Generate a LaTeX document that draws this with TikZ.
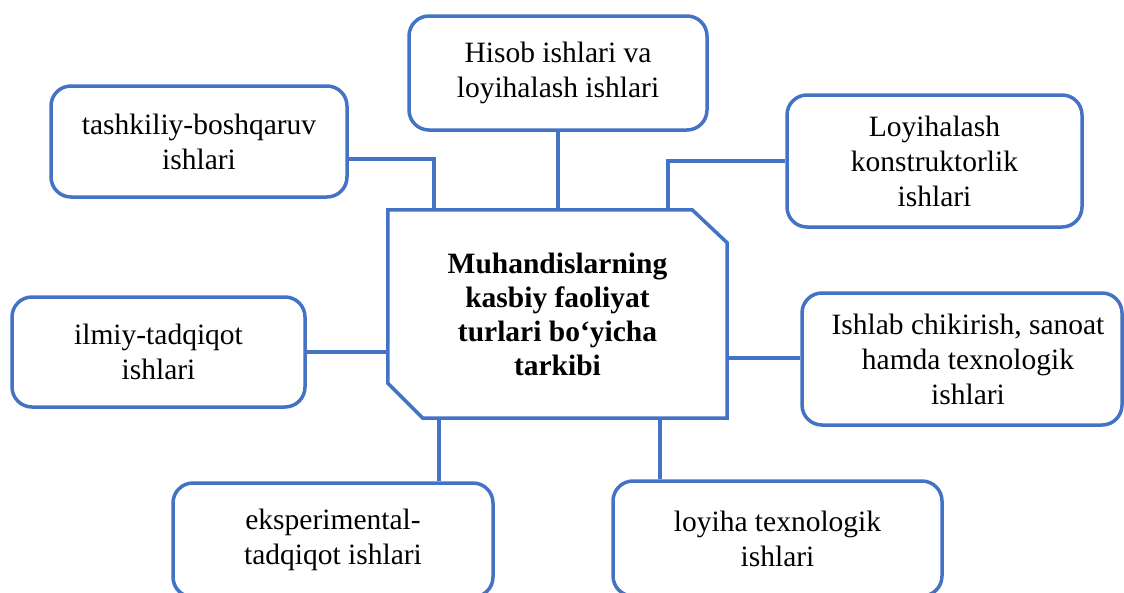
\documentclass[tikz,border=0pt]{standalone}
\usepackage{fontspec}
\setmainfont{Liberation Serif}
\definecolor{boxblue}{HTML}{4472C4}
\begin{document}
\begin{tikzpicture}[x=1pt,y=-1pt,
  box/.style={draw=boxblue, line width=3.5pt, rounded corners=20pt, fill=white,
    inner sep=0pt, align=center, font=\fontsize{29.5}{35}\selectfont},
  conn/.style={draw=boxblue, line width=3.5pt},
  midtext/.style={inner sep=0pt, align=center, font=\fontsize{29.5}{34}\selectfont\bfseries}]
\useasboundingbox (0,0) rectangle (1124,592);
\clip (0,0) rectangle (1124,592);
% central shape
\node[midtext, minimum width=339pt, minimum height=208pt] (mid) at (557.5,314)
  {Muhandislarning\\kasbiy faoliyat\\turlari bo‘yicha\\tarkibi};
\draw[conn, line join=miter] (mid.north west) -- ([xshift=-35pt]mid.north east)
  -- ([yshift=-33pt]mid.north east) -- (mid.south east)
  -- ([xshift=35pt]mid.south west) -- ([yshift=35pt]mid.south west) -- cycle;
% boxes
\node[box, minimum width=298pt, minimum height=114pt] (hisob) at (558,73)
  {Hisob ishlari va\\loyihalash ishlari};
\node[box, minimum width=296pt, minimum height=111pt] (tash) at (199,141.5)
  {tashkiliy-boshqaruv\\ishlari};
\node[box, minimum width=295pt, minimum height=132pt] (konst) at (934.5,161)
  {Loyihalash\\konstruktorlik\\ishlari};
\node[box, minimum width=293pt, minimum height=110pt] (ilmiy) at (158.5,352)
  {ilmiy-tadqiqot\\ishlari};
\node[box, minimum width=320pt, minimum height=132pt] (ishlab) at (962,359)
  {\hspace*{12pt}Ishlab chikirish, sanoat\\\hspace*{12pt}hamda texnologik\\\hspace*{12pt}ishlari};
\node[box, minimum width=320pt, minimum height=114pt] (eksp) at (333,540)
  {eksperimental-\\tadqiqot ishlari};
\node[box, minimum width=329pt, minimum height=115pt] (texn) at (777.5,538.5)
  {loyiha texnologik\\ishlari};
% connectors
\draw[conn] (hisob.south) -- (hisob.south |- mid.north);
\draw[conn] ([yshift=-17.5pt]tash.east) -| ([xshift=-123.5pt]mid.north);
\draw[conn] ([yshift=0pt]konst.west) -| ([xshift=110.5pt]mid.north);
\draw[conn] (ilmiy.east) -- (ilmiy.east -| mid.west);
\draw[conn] ([yshift=1pt]ishlab.west) -- ([yshift=1pt]ishlab.west -| mid.east);
\draw[conn] ([xshift=-118.5pt]mid.south) -- ([xshift=-118.5pt]mid.south |- eksp.north);
\draw[conn] ([xshift=102.5pt]mid.south) -- ([xshift=102.5pt]mid.south |- texn.north);
\end{tikzpicture}
\end{document}
